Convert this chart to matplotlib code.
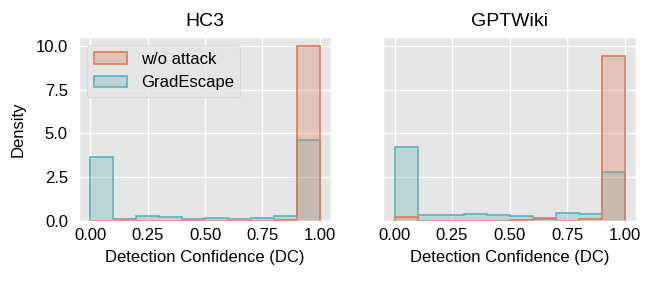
import numpy as np
import matplotlib
matplotlib.use("Agg")
import matplotlib.pyplot as plt
from matplotlib.colors import to_rgba

plt.style.use("ggplot")
plt.rcParams["font.family"] = ["Liberation Sans", "DejaVu Sans"]

# histogram bins (detection confidence)
bin_edges = np.linspace(0, 1, 11)

datasets = ["HC3", "GPTWiki"]

# density per bin
hc3_no_attack = [0, 0, 0, 0, 0, 0, 0, 0, 0.03, 10.0]
hc3_gradescape = [3.65, 0.13, 0.30, 0.23, 0.13, 0.17, 0.11, 0.17, 0.30, 4.64]
wiki_no_attack = [0.23, 0, 0, 0.02, 0, 0.03, 0.10, 0, 0.10, 9.43]
wiki_gradescape = [4.22, 0.34, 0.34, 0.40, 0.36, 0.30, 0.17, 0.47, 0.42, 2.80]

series_names = ["w/o attack", "GradEscape"]
colors = ["#E07A58", "#5AB3B8"]

data = {
    "HC3": [hc3_no_attack, hc3_gradescape],
    "GPTWiki": [wiki_no_attack, wiki_gradescape],
}

fig = plt.figure(figsize=(6.53, 2.83), dpi=100)
fig.patch.set_facecolor("white")
ax1 = fig.add_axes([79 / 653, 62 / 283, 252 / 653, 184 / 283])
ax2 = fig.add_axes([383 / 653, 62 / 283, 253 / 653, 184 / 283], sharey=ax1)

for ax, name in zip([ax1, ax2], datasets):
    # draw GradEscape first so the w/o attack outline sits on top
    for i in [1, 0]:
        c = colors[i]
        ax.stairs(data[name][i], bin_edges, fill=True,
                  facecolor=to_rgba(c, 0.3), edgecolor=c, linewidth=1.2,
                  label=series_names[i])
    ax.set_title(name, fontsize=14, color="black", pad=8)
    ax.set_xlabel("Detection Confidence (DC)", fontsize=12, color="black",
                  labelpad=5)
    ax.set_xticks([0, 0.25, 0.5, 0.75, 1.0])
    ax.tick_params(axis="x", length=0, labelsize=12, labelcolor="black", pad=5)
    ax.tick_params(axis="y", length=0, labelsize=12, labelcolor="black", pad=8)
    ax.set_facecolor("#E5E5E5")
    ax.grid(True, color="white", linewidth=1.0)
    ax.margins(x=0.05, y=0.05)
    ax.set_ylim(bottom=0)

ax1.set_ylabel("Density", fontsize=12, color="black", labelpad=7)
ax1.set_yticks([0, 2.5, 5.0, 7.5, 10.0])
plt.setp(ax2.get_yticklabels(), visible=False)

leg_handles, leg_labels = ax1.get_legend_handles_labels()
order = [leg_labels.index(n) for n in series_names]
ax1.legend([leg_handles[k] for k in order], series_names, loc="upper left",
           fontsize=12, frameon=True, facecolor="#E5E5E5", edgecolor="#CCCCCC",
           framealpha=0.8)

fig.savefig("out.png", dpi=100)
